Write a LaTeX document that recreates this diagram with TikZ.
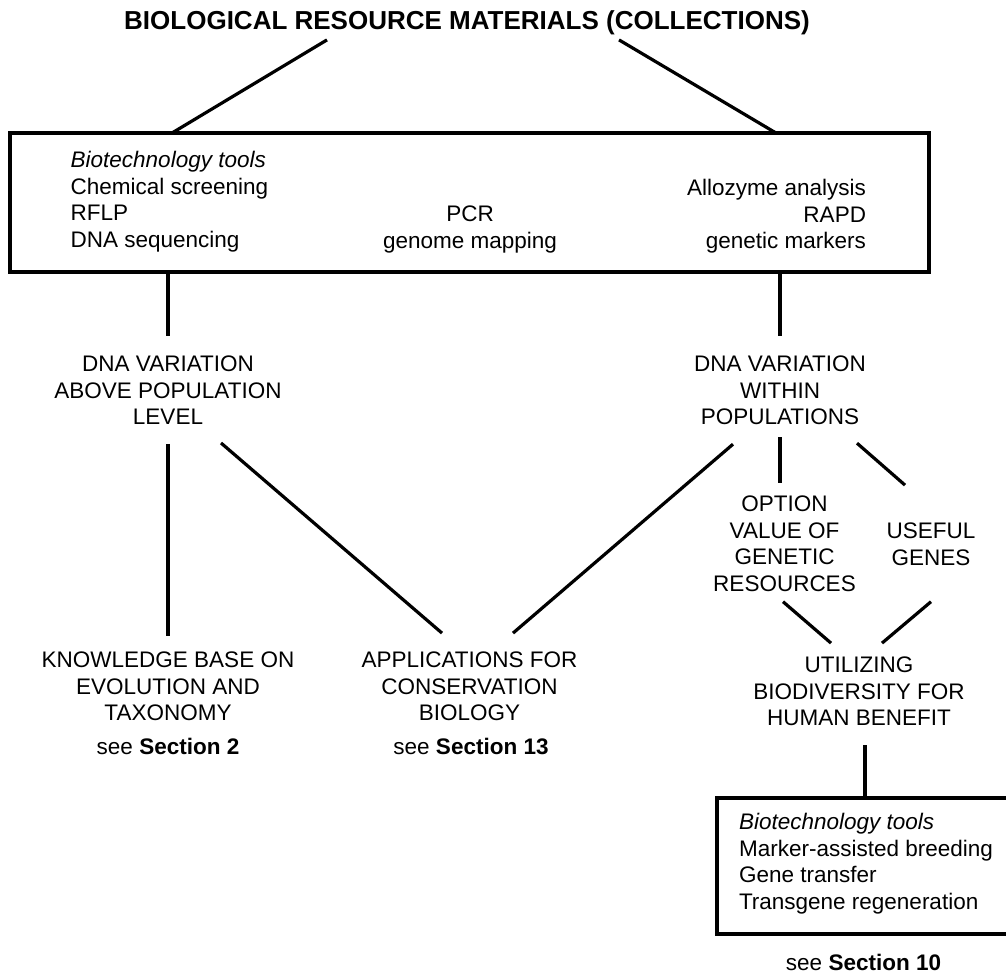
\documentclass[tikz,border=0pt]{standalone}
\usepackage{fontspec}
\setmainfont{Liberation Sans}
\newcommand\regfont{\fontsize{22.5}{26.5}\selectfont}
\newcommand\titlefont{\fontsize{26}{30}\selectfont\bfseries}
\newcommand\fl{\rule{0pt}{0.75em}}
\tikzset{
  txt/.style={inner sep=0pt, outer sep=0pt, align=center, anchor=north, font=\regfont},
  txtl/.style={txt, align=left, anchor=north west},
  txtr/.style={txt, align=right, anchor=north east},
  frame/.style={draw, line width=3.6pt, inner sep=0pt, outer sep=0pt, anchor=north west},
  link/.style={line width=3.2pt},
}
\begin{document}
\begin{tikzpicture}[x=1pt,y=1pt]
\useasboundingbox[fill=white] (0,0) rectangle (1006,-979);

% title
\node[txt, font=\titlefont] (title) at (467,-10.5) {\fl BIOLOGICAL RESOURCE MATERIALS (COLLECTIONS)};

% top box
\node[frame, minimum width=919pt, minimum height=139pt] (box1) at (10,-133) {};
\node[txtl] (toolsL) at (70.7,-151.1) {\fl\textit{Biotechnology tools}\\Chemical screening\\RFLP\\DNA sequencing};
\node[txt] (toolsM) at (470,-205.1) {\fl PCR\\genome mapping};
\node[txtr] (toolsR) at (866,-179.1) {\fl Allozyme analysis\\RAPD\\genetic markers};

% middle level
\node[txt] (dnaA) at (168,-355.1) {\fl DNA VARIATION\\ABOVE POPULATION\\LEVEL};
\node[txt] (dnaW) at (780,-355.1) {\fl DNA VARIATION\\WITHIN\\POPULATIONS};
\node[txt] (option) at (784.5,-495.1) {\fl OPTION\\VALUE OF\\GENETIC\\RESOURCES};
\node[txt] (useful) at (931,-522.1) {\fl USEFUL\\GENES};

% lower level
\node[txt] (knowledge) at (168,-651.1) {\fl KNOWLEDGE BASE ON\\EVOLUTION AND\\TAXONOMY};
\node[txt] (sec2) at (168,-738.1) {\fl see \textbf{Section 2}};
\node[txt] (apps) at (469.5,-651.1) {\fl APPLICATIONS FOR\\CONSERVATION\\BIOLOGY};
\node[txt] (sec13) at (471,-738.1) {\fl see \textbf{Section 13}};
\node[txt] (util) at (859,-656.1) {\fl UTILIZING\\BIODIVERSITY FOR\\HUMAN BENEFIT};

% bottom box
\node[frame, minimum width=300pt, minimum height=136pt] (box2) at (717,-798) {};
\node[txtl] (tools2) at (739,-813.1) {\fl\textit{Biotechnology tools}\\Marker-assisted breeding\\Gene transfer\\Transgene regeneration};
\node[txt] (sec10) at (863.5,-954.1) {\fl see \textbf{Section 10}};

% connectors
\draw[link] ([xshift=-140,yshift=-4.5]title.south) -- ([xshift=-297.5]box1.north);
\draw[link] ([xshift=152,yshift=-4.5]title.south) -- ([xshift=306.5]box1.north);
\draw[link] (box1.south -| dnaA.north) -- ([yshift=19]dnaA.north);
\draw[link] (box1.south -| dnaW.north) -- ([yshift=19]dnaW.north);
\draw[link] ([yshift=-19]dnaA.south) -- ([yshift=15]knowledge.north);
\draw[link] ([xshift=53,yshift=-18]dnaA.south) -- ([xshift=-27.5,yshift=18]apps.north);
\draw[link] ([xshift=-47,yshift=-19]dnaW.south) -- ([xshift=43.5,yshift=18]apps.north);
\draw[link] ([yshift=-12]dnaW.south) -- ([yshift=12]dnaW.south |- option.north);
\draw[link] ([xshift=77,yshift=-18]dnaW.south) -- ([xshift=-26,yshift=37]useful.north);
\draw[link] ([xshift=-1.5,yshift=-10]option.south) -- ([xshift=-28,yshift=13]util.north);
\draw[link] ([yshift=-36]useful.south) -- ([xshift=23,yshift=13]util.north);
\draw[link] ([xshift=6,yshift=-19]util.south) -- ([xshift=6]util.south |- box2.north);
\end{tikzpicture}
\end{document}
